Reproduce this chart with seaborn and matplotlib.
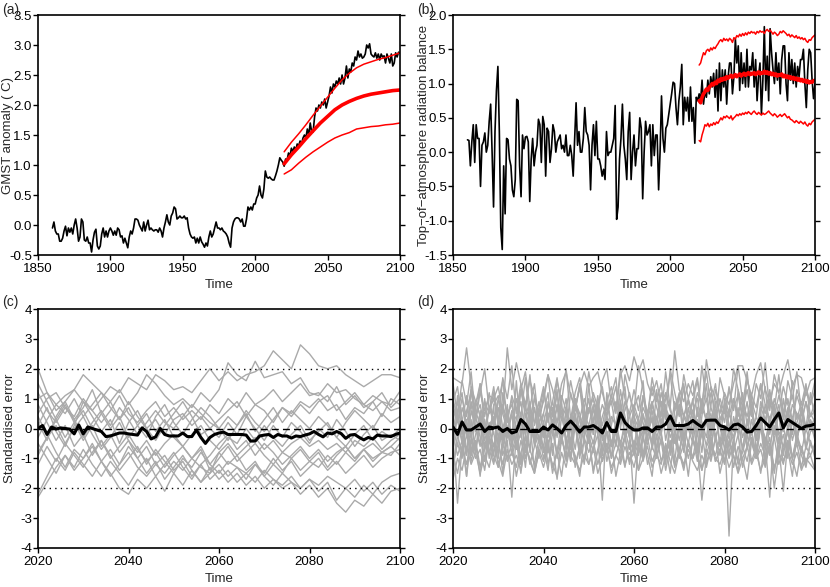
import numpy as np
import pandas as pd
import matplotlib
matplotlib.use('Agg')
import matplotlib.pyplot as plt
import seaborn as sns

# ---------------- panel (a): GMST anomaly ----------------
gmst_years = list(range(1860, 2101))
gmst_obs = [
    -0.05, 0.05, -0.1, -0.15, -0.15, -0.27, -0.27, -0.22, -0.1, -0.02,
    -0.18, -0.05, -0.12, -0.05, -0.15, 0.0, 0.1, -0.05, -0.27, -0.2,
    0.1, 0.05, -0.25, -0.27, -0.2, -0.3, -0.3, -0.45, -0.25, -0.12,
    -0.07, -0.35, -0.4, -0.35, -0.15, -0.05, -0.2, -0.1, -0.2, -0.1,
    -0.05, -0.1, -0.17, -0.1, -0.17, -0.05, -0.08, -0.2, -0.18, -0.3,
    -0.22, -0.3, -0.38, -0.2, -0.1, -0.15, -0.05, 0.1, 0.1, 0.08,
    0.0, -0.05, -0.1, 0.05, -0.1, 0.0, 0.08, -0.08, -0.05, -0.08,
    -0.1, -0.08, -0.08, -0.12, -0.05, -0.1, -0.2, -0.05, 0.05, 0.17,
    0.05, 0.0, 0.15, 0.2, 0.3, 0.27, 0.1, 0.12, 0.15, 0.12,
    0.12, 0.15, 0.1, 0.12, -0.05, -0.15, -0.2, -0.22, -0.2, -0.3,
    -0.22, -0.3, -0.2, -0.28, -0.32, -0.37, -0.3, -0.35, -0.2, -0.1,
    -0.2, -0.15, -0.05, 0.05, -0.05, -0.05, -0.08, -0.05, -0.1, -0.12,
    -0.15, -0.2, -0.3, -0.37, -0.05, 0.05, 0.1, 0.12, 0.12, 0.1,
    0.05, 0.1, -0.02, -0.02, 0.1, 0.3, 0.25, 0.3, 0.25, 0.35,
    0.35, 0.45, 0.5, 0.65, 0.5, 0.45, 0.6, 0.9, 0.8, 0.78,
    0.8, 0.77, 0.75, 0.75, 0.82, 0.9, 1.0, 1.12, 1.08, 1.05,
    0.98, 1.1, 1.08, 1.2, 1.15, 1.28, 1.22, 1.3, 1.25, 1.35,
    1.32, 1.4, 1.35, 1.45, 1.5, 1.45, 1.6, 1.5, 1.7, 1.55,
    1.55, 1.8, 1.95, 1.9, 2.0, 1.95, 2.05, 2.0, 2.1, 1.95,
    2.05, 2.15, 2.3, 2.2, 2.35, 2.3, 2.4, 2.35, 2.45, 2.35,
    2.5, 2.35, 2.45, 2.65, 2.45, 2.6, 2.55, 2.7, 2.65, 2.8,
    2.75, 2.9, 2.8, 2.85, 2.78, 2.8, 2.85, 3.0, 2.95, 3.02,
    2.85, 2.82, 2.8, 2.87, 2.78, 2.85, 2.75, 2.85, 2.8, 2.82,
    2.7, 2.85, 2.78, 2.7, 2.85, 2.65, 2.7, 2.87, 2.8, 2.88,
    2.87,
]
proj_years_5 = list(range(2020, 2101, 5))
gmst_mid = [1.02, 1.17, 1.3, 1.44, 1.57, 1.7, 1.81, 1.92, 2.0, 2.06, 2.11, 2.15, 2.18, 2.2, 2.22, 2.24, 2.25]
gmst_up = [1.22, 1.38, 1.52, 1.67, 1.83, 1.98, 2.13, 2.28, 2.42, 2.53, 2.62, 2.68, 2.72, 2.76, 2.79, 2.83, 2.87]
gmst_lo = [0.85, 0.92, 1.03, 1.13, 1.22, 1.3, 1.38, 1.45, 1.5, 1.54, 1.6, 1.62, 1.64, 1.65, 1.67, 1.68, 1.7]

# ---------------- panel (b): TOA radiation balance ----------------
toa_obs = [
    0.18, 0.17, -0.2, 0.15, 0.4, -0.15, 0.4, 0.2, 0.2, -0.5,
    0.1, 0.15, 0.28, 0.0, 0.1, 0.45, 0.7, 0.0, -0.8, 0.3,
    0.9, 1.25, 0.3, -1.1, -1.42, -0.2, -0.9, 0.2, 0.18, -0.1,
    -0.2, -0.55, -0.65, -0.4, 0.77, 0.75, -0.2, -0.65, 0.25, 0.05,
    0.22, 0.23, 0.15, -0.72, -0.1, 0.2, -0.2, 0.0, 0.1, 0.48,
    0.4, -0.15, 0.52, 0.4, -0.35, 0.35, 0.3, -0.15, 0.05, 0.4,
    0.3, 0.0, 0.15, 0.2, 0.25, 0.05, 0.1, 0.0, 0.25, -0.05,
    -0.05, 0.1, -0.05, -0.35, 0.2, 0.72, 0.1, 0.3, 0.0, 0.0,
    0.2, 0.65, 0.3, 0.25, 0.1, -0.55, 0.1, 0.4, -0.05, 0.45,
    -0.1, -0.1, -0.2, -0.35, -0.25, -0.4, 0.3, -0.05, 0.0, 0.0,
    0.1, 0.2, 0.68, -0.98, -0.8, -0.1, 0.2, 0.7, 0.1, -0.1,
    -0.4, 0.3, 0.58, -0.4, 0.0, 0.25, -0.2, 0.05, 0.05, 0.5,
    0.35, -0.68, 0.0, 0.45, 0.25, 0.3, 0.4, -0.2, 0.4, -0.05,
    0.25, 0.25, -0.55, 0.0, 0.82, 0.2, 0.0, 0.35, 0.4, 0.55,
    0.7, 0.85, 1.02, 1.0, 0.65, 0.4, 0.75, 0.95, 1.28, 0.4,
    0.8, 0.6, 0.8, 0.45, 0.95, 0.45, 0.65, 0.13, 0.8, 0.75,
    0.85, 0.75, 1.05, 0.7, 0.9, 0.8, 1.05, 0.85, 1.1, 0.95,
    1.15, 0.8, 1.2, 0.6, 1.3, 0.75, 1.2, 0.95, 1.2, 0.7,
    1.1, 1.3, 1.3, 0.85, 1.1, 1.65, 1.3, 1.55, 0.9, 1.45,
    1.0, 1.3, 0.95, 1.5, 0.95, 1.25, 1.2, 1.45, 0.95, 1.35,
    0.75, 1.1, 1.3, 0.55, 1.05, 1.83, 0.9, 1.4, 0.75, 1.8,
    1.45, 1.2, 1.0, 1.45, 1.05, 1.3, 0.85, 1.35, 1.55, 1.55,
    1.0, 0.75, 1.45, 1.05, 1.35, 1.0, 1.3, 0.95, 1.25, 1.1,
    1.35, 1.35, 1.5, 1.0, 0.65, 1.2, 1.5, 1.45, 1.05, 0.78,
    1.0,
]
proj_years = list(range(2020, 2101))
toa_mid = [
    0.75, 0.72, 0.80, 0.85, 0.88, 0.92, 0.90, 0.95, 0.97, 1.00, 0.98, 1.02, 1.00, 1.05, 1.03, 1.07, 1.05, 1.08, 1.06, 1.10,
    1.08, 1.10, 1.12, 1.09, 1.11, 1.13, 1.10, 1.12, 1.14, 1.11, 1.13, 1.15, 1.12, 1.14, 1.16, 1.13, 1.15, 1.14, 1.16, 1.13,
    1.15, 1.17, 1.14, 1.16, 1.15, 1.18, 1.15, 1.17, 1.14, 1.16, 1.13, 1.15, 1.12, 1.14, 1.11, 1.13, 1.12, 1.14, 1.10, 1.12,
    1.09, 1.11, 1.08, 1.10, 1.07, 1.09, 1.06, 1.08, 1.05, 1.07, 1.04, 1.06, 1.03, 1.05, 1.02, 1.04, 1.01, 1.03, 1.02, 1.04,
    1.05,
]
toa_up = [
    1.27, 1.30, 1.38, 1.45, 1.42, 1.48, 1.50, 1.47, 1.52, 1.49, 1.53, 1.51, 1.55, 1.58, 1.62, 1.64, 1.61, 1.66, 1.63, 1.65,
    1.62, 1.66, 1.64, 1.60, 1.67, 1.65, 1.70, 1.68, 1.72, 1.69, 1.73, 1.70, 1.74, 1.71, 1.75, 1.73, 1.76, 1.74, 1.75, 1.72,
    1.76, 1.74, 1.77, 1.75, 1.76, 1.73, 1.77, 1.79, 1.76, 1.78, 1.75, 1.72, 1.75, 1.73, 1.70, 1.72, 1.76, 1.74, 1.77, 1.75,
    1.73, 1.70, 1.72, 1.68, 1.71, 1.69, 1.67, 1.70, 1.66, 1.68, 1.65, 1.67, 1.64, 1.66, 1.62, 1.60, 1.64, 1.63, 1.67, 1.69,
    1.71,
]
toa_lo = [
    0.17, 0.15, 0.25, 0.32, 0.40, 0.38, 0.42, 0.37, 0.41, 0.39, 0.43, 0.40, 0.44, 0.42, 0.46, 0.50, 0.47, 0.52, 0.50, 0.53,
    0.51, 0.49, 0.53, 0.47, 0.50, 0.52, 0.55, 0.53, 0.56, 0.54, 0.57, 0.55, 0.58, 0.56, 0.59, 0.57, 0.55, 0.58, 0.60, 0.57,
    0.55, 0.58, 0.56, 0.54, 0.57, 0.55, 0.56, 0.58, 0.60, 0.57, 0.55, 0.53, 0.56, 0.54, 0.51, 0.53, 0.55, 0.52, 0.54, 0.56,
    0.53, 0.50, 0.52, 0.48, 0.47, 0.45, 0.43, 0.46, 0.44, 0.42, 0.45, 0.43, 0.41, 0.44, 0.40, 0.38, 0.42, 0.40, 0.44, 0.46,
    0.48,
]

# ---------------- panel (c): standardised error, GMST (every 2 years) ----------------
c_members = [
    [1.0, 1.2, 0.8, 1.1, 1.3, 0.9, 0.6, 1.0, 1.4, 1.2, 1.7, 1.5, 1.3, 1.8, 1.6, 1.3, 1.4, 1.2, 1.6, 2.0,
     1.6, 1.9, 1.6, 1.8, 1.9, 2.1, 2.6, 2.3, 2.0, 2.8, 2.5, 2.1, 2.0, 2.1, 1.8, 1.6, 1.4, 1.6, 1.8, 1.8, 1.7],
    [2.0, 1.2, 0.6, 0.9, 1.3, 1.8, 1.5, 1.2, 0.9, 1.3, 0.8, 1.2, 1.8, 1.5, 1.1, 0.8, 1.0, 0.7, 1.2, 0.9,
     1.3, 2.2, 1.8, 1.6, 2.25, 1.7, 1.8, 1.9, 1.5, 1.7, 1.2, 1.1, 1.5, 1.2, 1.3, 1.0, 0.8, 1.1, 0.9, 0.8, 1.25],
    [0.5, 1.0, 1.2, 0.7, 0.4, 1.0, 0.6, 0.2, 0.6, 1.1, 0.5, 0.2, 0.6, 0.9, 0.4, 0.7, 0.3, 0.6, 0.3, 0.8,
     0.5, 1.0, 0.7, 1.2, 0.8, 1.0, 1.3, 0.9, 1.2, 1.5, 1.1, 1.2, 0.9, 1.4, 0.8, 1.1, 0.7, 0.9, 1.2, 0.7, 1.0],
    [-0.3, 0.3, 0.8, 0.5, 1.0, 0.4, 0.8, 1.2, 0.7, 0.3, 0.9, 0.4, 0.0, 0.3, -0.2, 0.3, 0.5, 0.1, 0.4, 0.0,
     0.3, 0.6, 0.9, 0.4, 0.8, 0.6, 0.2, 0.7, 0.5, 0.9, 0.7, 1.0, 0.6, 0.8, 0.3, 0.7, 0.5, 0.9, 0.4, 1.0, 0.8],
    [1.2, 0.6, 0.2, 0.7, 0.3, -0.3, 0.2, 0.6, 0.1, 0.7, 0.3, -0.2, 0.2, 0.6, 0.2, 0.0, 0.4, 0.8, 0.5, 0.2,
     0.0, 0.4, 0.1, 0.6, 0.2, -0.1, 0.3, 0.7, 0.4, 0.8, 0.5, 0.9, 1.1, 0.6, 0.9, 1.2, 0.8, 0.6, 0.9, 0.6, 0.7],
    [0.2, -0.4, 0.4, 0.9, 0.3, 0.7, 1.3, 0.5, 0.0, 0.4, -0.3, 0.1, 0.5, -0.1, 0.3, -0.3, -0.6, -0.2, 0.1, -0.4,
     -0.7, -0.3, -0.5, 0.0, -0.4, 0.1, -0.3, -0.6, -0.2, 0.1, -0.4, -0.1, 0.2, -0.3, -0.6, -0.2, 0.1, -0.4, -0.1, -0.3, 0.0],
    [-0.8, -0.3, 0.1, -0.5, 0.0, 0.4, -0.2, -0.7, -0.3, 0.2, -0.4, -0.8, -0.4, -0.9, -0.5, -0.2, -0.6, -1.0, -0.6, -1.2,
     -0.8, -0.5, -0.9, -0.6, -0.3, -0.7, -0.4, -0.8, -0.5, -0.3, -0.6, -0.4, -0.7, -0.5, -0.8, -0.4, -0.6, -0.3, -0.7, -0.4, -0.2],
    [0.8, 0.2, -0.4, 0.1, -0.6, -0.2, -0.9, -0.4, -1.0, -0.6, -0.2, -0.7, -1.1, -0.8, -1.3, -0.9, -0.6, -1.0, -0.7, -1.4,
     -1.0, -0.6, -1.1, -0.8, -0.5, -0.9, -1.2, -0.8, -1.0, -0.7, -1.1, -0.8, -1.3, -0.9, -0.6, -1.0, -0.7, -1.1, -0.8, -0.9, -0.5],
    [-1.2, -0.6, -1.1, -0.5, -0.9, -1.3, -0.8, -0.4, -0.9, -1.4, -1.0, -0.6, -1.2, -0.7, -1.1, -1.5, -1.0, -1.3, -0.8, -1.2,
     -1.5, -1.1, -1.3, -1.7, -1.2, -1.5, -1.0, -1.4, -1.1, -1.6, -1.3, -1.0, -1.4, -1.1, -1.5, -1.2, -0.9, -1.3, -1.0, -0.8, -0.7],
    [0.4, -0.2, -0.8, -1.3, -0.7, -1.0, -0.5, -1.1, -1.6, -1.2, -0.6, -1.0, -1.5, -1.1, -1.7, -1.3, -0.9, -1.4, -1.8, -1.5,
     -0.8, -1.2, -0.9, -1.4, -1.1, -1.6, -1.2, -1.5, -1.0, -1.4, -1.1, -1.3, -0.9, -1.2, -0.8, -1.1, -0.7, -1.0, -0.8, -0.6, -0.9],
    [-0.5, -1.0, -1.5, -0.9, -1.3, -0.7, -1.2, -1.6, -1.1, -1.5, -1.9, -1.4, -1.0, -1.6, -1.2, -0.8, -1.3, -1.7, -1.2, -0.9,
     -0.5, -0.2, -0.7, -0.4, -0.9, -0.5, -0.8, -1.2, -0.9, -0.6, -1.0, -0.7, -1.1, -0.8, -0.6, -1.0, -0.7, -0.5, -0.8, -0.6, -0.3],
    [-2.2, -1.6, -1.0, -1.4, -0.8, -1.2, -1.6, -1.1, -1.5, -2.0, -2.2, -1.7, -2.0, -1.6, -2.1, -1.5, -1.9, -1.4, -1.8, -1.3,
     -1.7, -1.4, -1.8, -1.5, -1.2, -1.6, -1.9, -1.5, -1.8, -2.0, -1.7, -2.1, -1.8, -2.4, -2.0, -2.3, -1.9, -2.2, -1.8, -1.6, -1.5],
    [-2.3, -1.8, -1.3, -0.9, -1.4, -1.0, -0.6, -1.1, -0.7, -1.2, -0.8, -1.3, -1.6, -1.2, -1.5, -1.1, -1.4, -1.0, -1.3, -1.5,
     -1.2, -1.6, -1.3, -1.5, -1.8, -1.4, -1.7, -2.0, -1.8, -2.2, -1.9, -2.3, -2.0, -2.5, -2.8, -2.4, -2.6, -2.2, -2.5, -2.1, -2.0],
    [1.5, 0.9, 0.3, -0.3, 0.2, -0.4, 0.1, -0.6, -0.2, -0.8, -0.4, -1.0, -0.6, -1.2, -0.9, -1.4, -1.1, -1.6, -1.2, -1.7,
     -1.4, -1.8, -1.5, -1.9, -1.6, -2.0, -1.7, -1.9, -1.6, -2.0, -1.7, -1.9, -1.6, -1.8, -2.0, -1.7, -2.1, -1.8, -2.2, -1.9, -2.1],
    [-0.9, -0.3, 0.3, 0.8, 0.2, 0.6, 0.0, 0.5, 0.9, 0.3, 0.7, 0.1, -0.3, 0.4, 0.8, 0.2, -0.2, 0.3, 0.7, 0.4,
     0.0, -0.4, 0.1, 0.5, -0.1, 0.3, 0.7, 0.2, 0.6, 0.3, 0.0, 0.4, 0.1, -0.3, 0.2, 0.6, 0.3, 0.0, 0.5, 0.2, 0.4],
    [0.1, 0.7, -0.1, -0.6, 0.1, 0.9, 0.4, -0.1, 0.3, -0.5, 0.2, 0.6, 0.0, -0.4, 0.1, 0.5, 0.9, 0.4, -0.2, 0.0,
     -0.3, 0.2, -0.2, 0.4, 0.0, -0.4, 0.1, -0.3, 0.2, -0.1, -0.5, 0.0, -0.3, 0.3, -0.1, -0.6, -0.2, 0.1, -0.4, -0.2, -0.4],
]
c_mean = [
    0.0, 0.1, -0.2, 0.05, -0.02, 0.02, 0.0, -0.02, -0.18, 0.12, -0.18, 0.05, 0.0, -0.05, -0.1, -0.27, -0.25, -0.2, -0.15, -0.15,
    -0.18, -0.2, -0.22, 0.02, -0.1, -0.35, -0.28, 0.0, -0.2, -0.25, -0.25, -0.25, -0.15, -0.27, -0.27, -0.05, -0.3, -0.5, -0.3, -0.2,
    -0.15, -0.12, -0.2, -0.2, -0.2, -0.2, -0.22, -0.42, -0.42, -0.25, -0.22, -0.2, -0.3, -0.2, -0.25, -0.25, -0.32, -0.25, -0.27, -0.22,
    -0.18, -0.1, -0.2, -0.28, -0.15, -0.18, -0.1, -0.17, -0.33, -0.22, -0.2, -0.3, -0.38, -0.3, -0.35, -0.22, -0.25, -0.25, -0.27, -0.2,
    -0.15,
]

# ---------------- panel (d): standardised error, TOA (annual) ----------------
d_members = [
    [1.7, 1.6, 1.5, 2.7, 1.4, 0.9, 1.2, 0.6, 1.1, 1.0, 1.4, 0.5, 2.7, 1.3, 2.2, 1.5, 0.8, 1.6, 1.1, 0.4,
     0.9, 1.8, 1.3, 0.6, 1.5, 1.9, 1.1, 0.7, 1.4, 1.9, 1.4, 1.7, 1.9, 1.2, 0.6, 1.1, 0.5, 1.8, 2.1, 1.6,
     2.4, 1.9, 2.3, 1.5, 1.1, 1.6, 0.8, 1.2, 0.7, 2.6, 1.3, 0.9, 1.5, 1.1, 1.7, 0.6, 2.3, 1.4, 1.0, 0.5,
     1.2, 0.8, 1.5, 2.1, 2.1, 1.6, 1.1, 1.8, 2.2, 1.3, 0.9, 1.5, 1.2, 1.8, 2.3, 1.4, 1.8, 1.7, 1.1, 1.6, 1.7],
    [0.8, 0.2, 1.0, 0.4, 1.3, 0.6, 0.1, 0.9, 0.5, 1.2, 0.3, 0.8, 0.2, 1.1, 0.6, 1.5, 0.7, 0.3, 1.0, 0.5,
     1.3, 0.4, 0.9, 0.2, 1.1, 0.6, 1.6, 0.8, 0.3, 1.0, 0.5, 1.2, 0.7, 0.1, 0.9, 1.4, 0.6, 2.0, 1.0, 0.4,
     0.8, 0.3, 1.1, 0.5, 1.4, 0.7, 0.2, 1.0, 1.8, 0.6, 1.1, 0.4, 0.9, 0.3, 1.2, 0.8, 1.9, 0.7, 0.2, 1.0,
     0.5, 1.3, 0.6, 2.1, 0.9, 0.4, 1.1, 0.7, 1.5, 0.8, 0.2, 1.0, 0.5, 1.4, 0.8, 0.3, 1.1, 0.6, 1.2, 0.9, 1.6],
    [0.3, 0.9, -0.2, 0.6, 1.2, 0.4, 0.8, 0.0, 0.7, 0.2, 1.0, 0.5, -0.1, 0.6, 0.3, 1.3, 0.4, 0.9, -0.3, 0.5,
     0.2, 0.8, 0.4, 1.1, 0.3, 0.7, 0.0, 0.9, 0.5, -0.2, 0.6, 1.0, 0.2, 0.8, 0.4, 0.1, 0.9, 0.3, 0.6, 1.2,
     0.4, 0.0, 0.7, 0.3, 0.9, -0.1, 0.5, 1.1, 0.6, 0.2, 0.8, 0.4, 1.0, 0.5, -0.2, 0.7, 0.3, 1.2, 0.6, 0.1,
     0.8, 0.4, 1.0, 0.2, 0.6, 1.3, 0.5, -0.1, 0.7, 0.3, 0.9, 0.4, 1.1, 0.6, 0.0, 0.8, 0.5, 0.2, 0.9, 0.4, 0.6],
    [-0.5, 0.6, 1.2, -0.2, 0.9, 0.3, 1.5, 0.1, -0.4, 0.8, 1.1, 0.0, 0.6, -0.3, 1.0, 0.4, 1.7, 0.2, 0.7, -0.1,
     0.5, 1.2, -0.2, 0.8, 0.3, 1.0, -0.5, 0.6, 1.4, 0.1, 0.7, 0.2, 1.1, -0.3, 0.5, 0.9, 0.0, 1.3, 0.4, -0.2,
     0.7, 1.1, 0.2, -0.4, 0.8, 0.3, 1.2, 0.5, -0.1, 0.9, 0.4, 1.4, 0.0, 0.6, 1.0, 0.2, -0.3, 0.8, 1.5, 0.3,
     0.6, -0.2, 1.0, 0.4, 1.2, 0.1, 0.7, -0.4, 0.9, 0.5, 1.3, 0.2, 0.8, -0.1, 0.6, 1.1, 0.3, 0.9, 0.0, 0.5, 0.2],
    [0.0, -0.6, 0.7, 0.2, -0.3, 0.9, 0.4, -0.2, 0.6, 1.0, 0.1, -0.5, 0.5, 0.8, -0.1, 0.3, -0.7, 0.6, 0.2, 0.9,
     -0.2, 0.4, 0.7, 0.0, -0.4, 0.6, 0.2, 1.0, -0.3, 0.5, 0.1, 0.8, -0.2, 0.4, 0.9, 0.0, -0.5, 0.7, 0.3, -0.1,
     0.6, 0.2, -0.4, 0.5, 0.9, 0.1, -0.2, 0.7, 0.3, 0.0, 0.8, -0.3, 0.4, 0.6, -0.1, 1.0, 0.2, 0.5, -0.4, 0.3,
     0.7, 0.1, -0.3, 0.6, 0.2, 0.9, -0.2, 0.4, 0.0, 0.8, 0.3, -0.4, 0.6, 0.1, 0.7, -0.2, 0.5, 0.2, 0.9, 0.0, 0.4],
    [0.6, 0.3, -0.4, 0.2, 0.8, -0.1, 0.5, -0.6, 0.1, 0.4, -0.3, 0.7, 0.0, -0.5, 0.3, 0.9, -0.2, 0.4, -0.4, 0.2,
     0.5, -0.3, 0.1, 0.7, -0.2, 0.3, -0.6, 0.4, 0.0, 0.6, -0.4, 0.2, 0.8, -0.1, 0.3, -0.5, 0.1, 0.9, 0.2, -0.3,
     0.1, -0.5, 0.4, 0.0, 0.6, -0.3, 0.2, 0.7, -0.1, 0.3, -0.4, 0.5, 0.1, -0.2, 0.6, 0.0, 0.4, -0.6, 0.3, 0.1,
     -0.2, 0.5, 0.0, 0.7, -0.3, 0.2, 0.6, -0.1, 0.4, -0.5, 0.3, 0.8, -0.2, 0.1, 0.5, -0.4, 0.2, 0.6, -0.1, 0.3, -0.1],
    [-0.7, 0.5, -0.2, -1.6, 0.3, -0.8, 0.6, -0.4, 0.2, -0.9, 0.4, -0.3, 0.8, -0.6, 0.1, -1.2, 0.5, -0.1, 0.7, -0.5,
     0.2, -0.8, 0.6, -0.3, 0.9, -0.7, 0.1, 0.5, -1.0, 0.3, -0.4, 0.7, -0.2, -2.4, 0.4, -0.6, 0.2, 0.8, -0.3, 0.5,
     -0.9, 0.3, -0.2, 0.6, -0.7, 0.1, 0.9, -0.4, 0.4, -1.1, 0.2, -0.5, 0.7, -0.1, 0.3, -0.8, 0.5, -0.3, 0.6, -0.6,
     0.1, -0.9, 0.4, -0.2, 0.8, -0.7, 0.3, -0.4, 0.6, -1.2, 0.2, 0.7, -0.5, 0.1, -0.8, 0.4, -0.3, 0.6, -0.6, 0.2, -0.4],
    [0.4, -0.3, 0.1, -0.8, 0.6, 0.0, -0.5, 0.3, -1.0, 0.2, 0.7, -0.4, 0.0, 0.5, -0.7, 0.3, -0.2, 0.8, -0.6, 0.1,
     -0.3, 0.5, -0.9, 0.2, 0.6, -0.4, 0.1, -0.7, 0.4, 0.0, -0.5, 0.3, 0.9, -0.2, -0.8, 0.4, 0.1, -0.6, 0.3, -0.2,
     -2.5, -0.4, 0.5, -0.1, 0.3, -0.7, 0.2, 0.6, -0.3, 0.1, -0.9, 0.4, 0.0, -0.5, 0.7, -0.2, 0.3, -0.8, 0.5, 0.0,
     -0.4, 0.6, -0.1, 0.3, -0.7, 0.2, 0.8, -0.3, 0.1, -0.6, 0.4, -0.2, 0.5, -0.9, 0.0, 0.3, -0.5, 0.6, -0.1, 0.2, -0.3],
    [-0.3, -2.5, -0.6, 0.2, -0.9, -0.2, 0.4, -0.7, -0.1, 0.3, -0.5, -1.2, -0.4, -2.3, -0.2, 0.5, -0.8, 0.1, -0.4, -1.0,
     0.2, -0.5, 0.0, -0.9, 0.4, -0.3, -1.1, 0.1, -0.6, 0.3, -0.2, -0.8, 0.5, -0.4, -0.1, -1.0, 0.2, -0.5, 0.0, -0.7,
     0.3, -0.4, -0.9, 0.1, -0.6, 0.4, -0.2, -1.0, 0.2, -0.5, 0.0, -0.8, 0.3, -0.3, -1.1, 0.1, -0.6, 0.4, -0.2, -0.9,
     0.0, -3.6, -0.4, 0.2, -0.7, 0.3, -0.5, -1.0, 0.1, -0.3, -0.8, 0.4, -0.2, -0.6, 0.1, -1.0, -0.3, 0.2, -0.7, -0.1, 0.0],
    [1.0, 0.3, -0.5, 0.1, -0.8, 0.4, -0.3, -1.1, 0.0, -0.6, 0.2, -0.9, -0.3, 0.5, -0.7, -0.1, -1.3, 0.2, -0.5, 0.1,
     -0.8, -0.2, 0.3, -1.0, -0.4, 0.2, -0.7, 0.4, -0.3, -1.2, 0.0, -0.5, 0.3, -0.9, -0.1, -0.6, 0.2, -1.1, -0.3, 0.1,
     -0.6, 0.3, -0.9, -0.2, 0.4, -0.7, -0.1, -1.2, 0.2, -0.4, -0.9, 0.1, -0.5, 0.3, -0.8, -0.2, 0.4, -1.0, -0.3, 0.2,
     -0.7, 0.0, -0.4, -1.1, 0.3, -0.6, -0.1, -0.9, 0.2, -0.5, -2.3, 0.1, -0.7, -0.2, -1.0, 0.3, -0.4, -0.8, 0.0, -0.5, -0.9],
    [-0.2, -0.9, -0.4, -1.6, -0.3, -0.8, 0.2, -1.1, -0.5, -0.1, -1.3, -0.6, 0.0, -0.9, -0.4, -1.5, -0.2, -0.7, -1.2, -0.3,
     -0.6, -1.4, -0.1, -0.8, -0.3, -1.0, -0.5, 0.1, -0.9, -0.4, -1.2, -0.7, -0.2, -1.1, -0.5, -0.9, -0.1, -0.6, -1.3, -0.4,
     -0.8, -0.3, -1.1, -0.5, 0.0, -0.9, -0.4, -1.4, -0.6, -0.2, -1.0, -0.5, -1.6, -0.3, -0.8, -0.1, -1.2, -0.5, -0.9, -0.3,
     -1.1, -0.4, -0.8, -0.2, -1.3, -0.6, -0.1, -1.0, -0.5, -0.9, -0.3, -1.4, -0.6, -2.1, -0.4, -1.0, -0.2, -0.7, -1.2, -0.5, -0.8],
    [-1.2, -0.5, -1.0, -0.2, -0.9, -0.4, -1.3, -0.7, -0.3, -1.1, -0.6, -0.1, -1.0, -0.5, -1.6, -0.8, -0.3, -1.2, -0.6, -0.2,
     -1.0, -0.4, -1.5, -0.7, -0.2, -1.1, -0.5, -0.9, -1.6, -0.3, -0.8, -0.4, -1.2, -0.6, -0.1, -1.0, -0.5, -0.8, -0.3, -1.1,
     -0.4, -0.9, -0.2, -1.2, -0.6, -1.0, -0.3, -0.8, -0.5, -1.3, -0.7, -0.2, -1.0, -0.4, -0.9, -1.4, -0.6, -0.3, -1.1, -0.7,
     -0.3, -1.0, -0.5, -1.2, -0.8, -0.2, -1.1, -0.6, -1.5, -0.4, -0.9, -0.3, -1.2, -0.7, -0.1, -1.0, -0.5, -1.3, -0.6, -0.9, -0.5],
    [-0.9, -1.5, -0.6, -1.2, -0.4, -1.0, -0.7, -1.4, -0.3, -0.9, -1.3, -0.5, -1.1, -0.8, -0.2, -1.2, -0.6, -1.0, -1.5, -0.7,
     -1.1, -0.5, -1.3, -0.8, -1.6, -0.4, -0.9, -1.2, -0.6, -1.0, -0.3, -1.4, -0.7, -1.1, -0.5, -1.5, -0.9, -0.4, -1.2, -0.8,
     -1.3, -0.6, -1.0, -0.3, -1.1, -0.7, -1.5, -0.9, -0.4, -1.2, -0.8, -1.4, -0.5, -1.0, -0.6, -2.4, -0.9, -0.3, -1.1, -0.7,
     -1.2, -0.5, -0.9, -1.4, -0.6, -1.1, -0.3, -1.0, -0.7, -1.3, -0.5, -2.0, -0.8, -1.2, -0.4, -1.0, -1.6, -0.6, -1.1, -0.9, -1.4],
    [-1.7, -1.0, -1.4, -0.6, -1.2, -0.8, -1.5, -0.9, -1.3, -0.5, -1.1, -1.6, -0.7, -1.2, -0.9, -1.4, -0.6, -1.1, -1.5, -0.8,
     -1.3, -0.7, -1.2, -1.6, -0.8, -1.3, -0.5, -1.0, -1.4, -0.9, -1.2, -0.6, -1.5, -1.0, -0.7, -1.3, -0.9, -1.2, -0.6, -1.1,
     -0.8, -1.4, -1.0, -0.6, -1.3, -0.9, -1.2, -0.5, -1.1, -1.5, -0.8, -1.2, -0.7, -1.1, -1.4, -0.9, -1.3, -0.6, -1.0, -1.2,
     -0.7, -1.3, -0.9, -1.5, -1.0, -0.6, -1.2, -0.8, -1.4, -1.0, -0.6, -1.3, -0.9, -1.1, -0.7, -1.2, -0.8, -1.4, -1.0, -1.2, -1.4],
    [1.5, 0.4, 1.6, 0.8, 1.9, 0.3, 1.2, 2.0, 0.6, 1.4, 0.2, 1.7, 1.0, 2.1, 0.5, 1.3, 1.9, 0.7, 1.5, 0.1,
     1.1, 1.8, 0.4, 1.6, 0.9, 2.0, 0.3, 1.2, 1.7, 0.6, 1.9, 1.0, 0.5, 1.6, 2.0, 0.8, 1.4, 0.2, 1.8, 1.1,
     0.6, 2.1, 1.3, 0.4, 1.7, 0.9, 1.5, 0.3, 2.0, 1.2, 0.5, 1.8, 1.0, 1.6, 0.4, 2.1, 0.9, 1.4, 0.2, 1.7,
     1.1, 0.5, 2.0, 1.3, 0.7, 1.9, 0.4, 1.5, 1.0, 2.2, 0.6, 1.8, 1.2, 0.3, 1.6, 1.0, 1.9, 0.5, 1.4, 0.8, 1.3],
    [0.9, 1.4, 0.2, 1.1, -0.3, 0.8, 1.5, 0.4, 1.2, 0.0, 0.9, 1.6, 0.3, 1.0, -0.2, 1.3, 0.6, 1.8, 0.1, 0.7,
     1.4, 0.2, 0.9, 1.7, 0.5, -0.1, 1.2, 0.6, 1.5, 0.3, 1.0, -0.2, 0.8, 1.4, 0.4, 1.1, 1.7, 0.0, 0.9, 0.5,
     1.3, 0.6, 1.6, -0.1, 0.8, 1.2, 0.4, 1.9, 0.7, 0.1, 1.1, 1.5, 0.3, 0.9, 1.6, 0.5, 1.0, 0.0, 1.3, 0.8,
     0.2, 1.4, 0.7, 1.1, 0.3, 1.7, 0.9, 0.4, 1.5, 0.0, 1.2, 0.6, 1.8, 0.5, 1.0, 0.2, 1.3, 0.8, 1.5, 0.4, 0.9],
    [-1.4, -0.2, -0.9, 0.3, -1.1, -0.5, -1.6, 0.1, -0.7, -1.2, -0.3, -1.5, 0.0, -0.8, -1.3, -0.4, -1.0, 0.2, -1.4, -0.6,
     -0.1, -1.2, -0.5, -1.7, -0.3, -0.9, 0.1, -1.3, -0.6, -1.0, -0.2, -1.5, -0.7, 0.0, -1.1, -0.4, -1.6, -0.8, -0.2, -1.2,
     -0.5, -1.4, -0.3, -0.9, -1.6, -0.2, -1.1, -0.6, -1.5, 0.0, -0.8, -1.3, -0.4, -1.0, -0.1, -1.4, -0.7, -1.1, -0.3, -1.5,
     -0.8, -0.2, -1.3, -0.6, -1.0, -1.7, -0.4, -0.9, 0.1, -1.2, -0.5, -1.5, -0.3, -1.1, -0.7, -1.6, -0.2, -0.9, -1.3, -0.4, -1.0],
    [-0.4, 1.1, 0.3, -0.9, 1.4, 0.0, -0.6, 1.0, -0.2, 0.7, -1.0, 1.2, 0.4, -0.5, 1.6, -0.3, 0.8, -0.8, 1.1, 0.2,
     -0.7, 0.9, 0.1, 1.3, -0.5, 0.6, -1.1, 1.0, 0.3, -0.4, 1.5, -0.2, 0.7, -0.9, 1.2, 0.0, -0.6, 0.9, 1.4, -0.3,
     0.5, -0.8, 1.1, 0.2, -0.5, 1.3, -0.1, 0.8, -0.9, 0.6, 1.2, -0.4, 0.3, 1.0, -0.7, 0.4, 1.5, -0.2, 0.9, -0.6,
     1.0, 0.1, -0.7, 1.3, 0.4, -0.3, 1.1, -0.8, 0.6, 1.4, -0.2, 0.5, -0.9, 1.0, 0.2, 1.6, -0.4, 0.7, 0.0, 1.2, 0.3],
]
d_mean = [
    0.05, -0.2, 0.22, -0.05, -0.05, 0.05, 0.15, -0.1, 0.05, 0.02, 0.05, -0.1, 0.0, -0.15, -0.1, 0.3, 0.15, -0.1, -0.1, -0.1,
    0.05, -0.05, 0.12, 0.0, -0.15, 0.1, 0.25, 0.08, -0.12, 0.05, 0.05, 0.1, 0.0, -0.15, 0.2, -0.1, -0.1, 0.52, 0.2, 0.05,
    -0.05, -0.05, 0.02, 0.02, -0.1, 0.05, 0.05, 0.15, 0.42, 0.1, 0.1, 0.1, 0.15, 0.27, 0.15, 0.05, 0.27, 0.28, 0.28, 0.1,
    0.05, -0.05, 0.12, 0.15, 0.05, -0.12, -0.1, 0.1, 0.35, 0.2, 0.05, 0.3, 0.52, 0.02, 0.3, 0.2, 0.1, 0.0, 0.08, 0.1,
    0.15,
]

# ---------------- styling ----------------
sns.set_style('ticks')
plt.rcParams['font.family'] = ['Liberation Sans', 'DejaVu Sans']
plt.rcParams['axes.unicode_minus'] = False

W, H = 830, 587
FS = 9.5
fig = plt.figure(figsize=(W / 100, H / 100), dpi=100)


def make_ax(x0, y0, x1, y1):
    ax = fig.add_axes([x0 / W, 1 - y1 / H, (x1 - x0) / W, (y1 - y0) / H])
    for s in ax.spines.values():
        s.set_linewidth(1.2)
        s.set_color('black')
    ax.tick_params(direction='out', length=3.6, width=1.0, labelsize=FS,
                   right=True, top=False, colors='black')
    ax.tick_params(axis='x', pad=2)
    ax.tick_params(axis='y', pad=0.8)
    return ax


def long_frame(members, step):
    rows = []
    for m, line in enumerate(members):
        for i, v in enumerate(line):
            rows.append((m, 2020 + step * i, v))
    return pd.DataFrame(rows, columns=['member', 'year', 'err'])


# (a)
ax = make_ax(38, 15, 400, 255)
sns.lineplot(x=gmst_years[:len(gmst_obs)], y=gmst_obs, ax=ax, color='black', linewidth=1.2)
sns.lineplot(x=proj_years_5, y=gmst_up, ax=ax, color='red', linewidth=1.1)
sns.lineplot(x=proj_years_5, y=gmst_lo, ax=ax, color='red', linewidth=1.1)
sns.lineplot(x=proj_years_5, y=gmst_mid, ax=ax, color='red', linewidth=2.6)
ax.set_xlim(1850, 2100)
ax.set_ylim(-0.5, 3.5)
ax.set_xticks(range(1850, 2101, 50))
ax.set_yticks(np.arange(-0.5, 3.51, 0.5))
ax.yaxis.set_major_formatter(matplotlib.ticker.FormatStrFormatter('%.1f'))
ax.set_xlabel('Time', fontsize=FS)
ax.set_ylabel('GMST anomaly ( C)', fontsize=FS)
ax.xaxis.set_label_coords(0.5, -0.1)
ax.yaxis.set_label_coords(-0.066, 0.5)
fig.text(2 / W, 1 - 3 / H, '(a)', fontsize=10, va='top', ha='left')

# (b)
ax = make_ax(453, 15, 815, 255)
sns.lineplot(x=gmst_years[:len(toa_obs)], y=toa_obs, ax=ax, color='black', linewidth=1.2)
sns.lineplot(x=proj_years[:len(toa_mid)], y=toa_mid, ax=ax, color='red', linewidth=2.6)
sns.lineplot(x=proj_years[:len(toa_up)], y=toa_up, ax=ax, color='red', linewidth=1.1)
sns.lineplot(x=proj_years[:len(toa_lo)], y=toa_lo, ax=ax, color='red', linewidth=1.1)
ax.set_xlim(1850, 2100)
ax.set_ylim(-1.5, 2.0)
ax.set_xticks(range(1850, 2101, 50))
ax.set_yticks(np.arange(-1.5, 2.01, 0.5))
ax.yaxis.set_major_formatter(matplotlib.ticker.FormatStrFormatter('%.1f'))
ax.set_xlabel('Time', fontsize=FS)
ax.set_ylabel('Top\u2212of\u2212atmosphere radiation balance', fontsize=FS)
ax.xaxis.set_label_coords(0.5, -0.1)
ax.yaxis.set_label_coords(-0.064, 0.5)
fig.text(417 / W, 1 - 3 / H, '(b)', fontsize=10, va='top', ha='left')

# (c) and (d)
for (x0, x1), members, step, mean, tag in [((38, 400), c_members, 2, c_mean, '(c)'),
                                            ((453, 815), d_members, 1, d_mean, '(d)')]:
    ax = make_ax(x0, 309, x1, 548)
    df = long_frame(members, step)
    sns.lineplot(data=df, x='year', y='err', units='member', estimator=None,
                 color='#aaaaaa', linewidth=1.0, ax=ax)
    for yv in (2, -2):
        ax.axhline(yv, color='black', linestyle=(0, (1, 3)), linewidth=1.0, zorder=3)
    ax.axhline(0, color='black', linestyle=(0, (5, 3)), linewidth=1.0, zorder=3)
    sns.lineplot(x=proj_years[:len(mean)], y=mean, ax=ax, color='black', linewidth=2.2, zorder=4)
    ax.set_xlim(2020, 2100)
    ax.set_ylim(-4, 4)
    ax.set_xticks(range(2020, 2101, 20))
    ax.set_yticks(range(-4, 5))
    ax.set_xlabel('Time', fontsize=FS)
    ax.set_ylabel('Standardised error', fontsize=FS)
    ax.xaxis.set_label_coords(0.5, -0.103)
    ax.yaxis.set_label_coords(-0.062, 0.5)
    fig.text((x0 - 36) / W, 1 - 295 / H, tag, fontsize=10, va='top', ha='left')

fig.savefig('out.png', dpi=100)
